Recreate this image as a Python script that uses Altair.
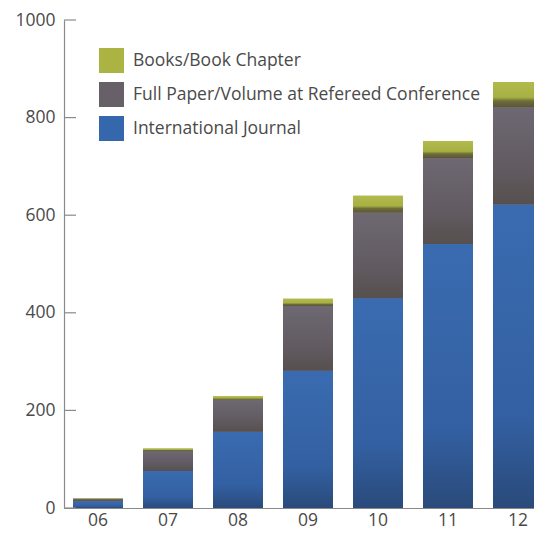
import altair as alt
import pandas as pd

years = ["06", "07", "08", "09", "10", "11", "12"]
journal = [14, 76, 156, 281, 430, 541, 622]
conference = [5, 41, 66, 133, 175, 176, 199]
books = [1, 5, 7, 15, 35, 35, 52]

series = ["Books/Book Chapter", "Full Paper/Volume at Refereed Conference", "International Journal"]
colors = ["#abb443", "#676068", "#3567ad"]
y_ticks = [0, 200, 400, 600, 800, 1000]

rows = []
for i, yr in enumerate(years):
    rows.append({"year": yr, "series": series[2], "value": journal[i], "ord": 0})
    rows.append({"year": yr, "series": series[1], "value": conference[i], "ord": 1})
    rows.append({"year": yr, "series": series[0], "value": books[i], "ord": 2})
df = pd.DataFrame(rows)

FONT = "Open Sans"
TXT = "#4a4a4a"
FS = 17.5

x_enc = alt.X("year:N", scale=alt.Scale(domain=years, range=[0, 488], paddingInner=0.2857, paddingOuter=0.1286),
              axis=alt.Axis(title=None, labelAngle=0, ticks=False, domainColor="#8a8a8a", domainWidth=1.2,
                            labelFontSize=FS, labelFont=FONT, labelColor=TXT, labelPadding=3))
y_scale = alt.Scale(domain=[0, 1000], nice=False)

base = alt.Chart(df).transform_stack(
    stack="value", groupby=["year"], as_=["y0", "y1"], sort=[alt.SortField("ord", order="ascending")]
)

solid = base.mark_bar().encode(
    x=x_enc,
    y=alt.Y("y0:Q", scale=y_scale,
            axis=alt.Axis(title=None, values=y_ticks, format="d", ticks=False, domainColor="#8a8a8a",
                          domainWidth=1.2, labelFontSize=FS, labelFont=FONT, labelColor=TXT,
                          labelPadding=9, grid=False)),
    y2="y1:Q",
    color=alt.Color("series:N", scale=alt.Scale(domain=series, range=colors),
                    legend=alt.Legend(title=None, orient="none", legendX=35, legendY=28,
                                      symbolType="square", symbolSize=625, symbolStrokeWidth=0,
                                      symbolOpacity=1, labelFontSize=FS, labelFont=FONT, labelColor=TXT,
                                      rowPadding=9, labelOffset=9, padding=0, labelLimit=400)),
)

def grad_layer(name, stops):
    return base.transform_filter(alt.datum.series == name).mark_bar(
        fill=alt.LinearGradient(gradient="linear", x1=0, x2=0, y1=0, y2=1,
                                stops=[alt.GradientStop(offset=o, color=c) for o, c in stops])
    ).encode(x=x_enc, y=alt.Y("y0:Q", scale=y_scale), y2="y1:Q")

g_journal = grad_layer(series[2], [(0, "#3a6bb0"), (0.7, "#3360a2"), (1, "#2a4a7a")])
g_conf = grad_layer(series[1], [(0, "#6e6872"), (0.6, "#625b62"), (1, "#57504f")])
g_books = grad_layer(series[0], [(0, "#b2ba4c"), (0.6, "#a7b043"), (0.75, "#6f6d3a"), (1, "#5a5438")])

ticks_df = pd.DataFrame({"t": y_ticks})
tick_rules = alt.Chart(ticks_df).mark_rule(color="#8a8a8a", strokeWidth=1.2).encode(
    y=alt.Y("t:Q", scale=y_scale), x=alt.value(0), x2=alt.value(12)
)

chart = alt.layer(solid, g_journal, g_conf, g_books, tick_rules).properties(
    width=470, height=488,
    autosize=alt.AutoSizeParams(type="none"),
    padding={"left": 56, "top": 12, "right": 0, "bottom": 21},
).configure_view(stroke=None)

chart.save("out.html", embed_options={"renderer": "svg", "actions": False})
